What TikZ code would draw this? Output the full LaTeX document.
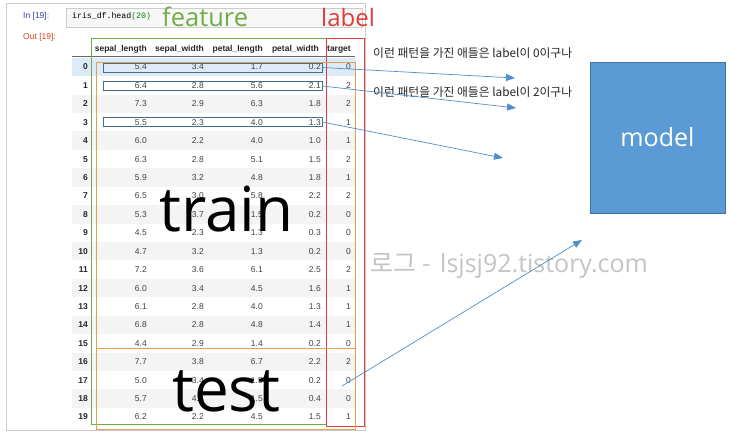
\documentclass[tikz,border=0pt]{standalone}
\usepackage{fontspec}
\setmainfont{Liberation Sans}
\newfontfamily\krfont{Noto Sans CJK KR}
\newfontfamily\osfont{Open Sans}
\newfontfamily\monof{Liberation Mono}
\usetikzlibrary{arrows.meta}
\definecolor{featgreen}{HTML}{70AD47}
\definecolor{labred}{HTML}{E03C3C}
\definecolor{splitorange}{HTML}{E2A050}
\definecolor{arrowblue}{HTML}{4F8FC8}
\definecolor{boxslate}{HTML}{3F6F8F}
\definecolor{rowgray}{HTML}{F4F4F4}
\definecolor{rowblue}{HTML}{DCEBF7}
\definecolor{modelfill}{HTML}{5B9BD5}
\definecolor{modeldraw}{HTML}{41719C}
\definecolor{promptin}{HTML}{303F9F}
\definecolor{promptout}{HTML}{D84315}
\definecolor{wmgray}{HTML}{C4C4C4}
\definecolor{valgray}{HTML}{404040}
\tikzset{
  cell/.style={anchor=base east, inner sep=0pt, font=\fontsize{8.5}{10}\selectfont, text=valgray},
  idx/.style={anchor=base east, inner sep=0pt, font=\fontsize{8.5}{10}\selectfont\bfseries, text=black!85},
  hdr/.style={anchor=base east, inner sep=0pt, font=\fontsize{8.5}{10}\selectfont\bfseries, text=black!85},
  rowbox/.style={draw=boxslate, line width=0.8pt},
  flow/.style={draw=arrowblue, line width=0.7pt, -{Triangle[length=9pt,width=7pt]}},
  bigword/.style={anchor=base west, inner sep=0pt, font=\osfont\fontsize{62}{70}\selectfont},
  note/.style={anchor=west, inner sep=0pt, font=\krfont\fontsize{11.8}{13}\selectfont, text=black!85},
}
\begin{document}
\begin{tikzpicture}[x=1pt, y=-1pt]
\useasboundingbox (0,0) rectangle (731,435);
\fill[white] (0,0) rectangle (731,435);
% notebook frame
\draw[black!20, line width=0.8pt] (6,3) rectangle (365,430);
% input box
\draw[black!20, fill=black!3, line width=0.6pt] (66,8) rectangle (362,27);
\node[anchor=base west, inner sep=0pt, font=\fontsize{8.5}{10}\selectfont, text=promptin] (inp) at (23,19) {In [19]:};
\node[anchor=base west, inner sep=0pt, font=\monof\fontsize{8.2}{10}\selectfont] (code) at (72,19) {iris\_df.head\textcolor{green!50!black}{(20)}};
\node[anchor=base west, inner sep=0pt, font=\fontsize{8.5}{10}\selectfont, text=promptout] (outp) at (23,40) {Out [19]:};
% row shading
\fill[rowblue] (72,57.8) rectangle (356,76.2);
\foreach \i in {2,4,...,18} {
  \fill[rowgray] (72,{67+18.42*\i-9.2}) rectangle (356,{67+18.42*\i+9.2});
}
% header
\node[hdr] (h1) at (147,52) {sepal\_length};
\node[hdr] (h2) at (204,52) {sepal\_width};
\node[hdr] (h3) at (263,52) {petal\_length};
\node[hdr] (h4) at (319,52) {petal\_width};
\node[hdr] (h5) at (351,52) {target};
\draw[black!60, line width=0.8pt] (72,56.5) -- (355,56.5);
% rows
\foreach \i/\a/\b/\c/\d/\t in {0/5.4/3.4/1.7/0.2/0, 1/6.4/2.8/5.6/2.1/2, 2/7.3/2.9/6.3/1.8/2, 3/5.5/2.3/4.0/1.3/1, 4/6.0/2.2/4.0/1.0/1, 5/6.3/2.8/5.1/1.5/2, 6/5.9/3.2/4.8/1.8/1, 7/6.5/3.0/5.8/2.2/2, 8/5.3/3.7/1.5/0.2/0, 9/4.5/2.3/1.3/0.3/0, 10/4.7/3.2/1.3/0.2/0, 11/7.2/3.6/6.1/2.5/2, 12/6.0/3.4/4.5/1.6/1, 13/6.1/2.8/4.0/1.3/1, 14/6.8/2.8/4.8/1.4/1, 15/4.4/2.9/1.4/0.2/0, 16/7.7/3.8/6.7/2.2/2, 17/5.0/3.4/1.5/0.2/0, 18/5.7/4.4/1.5/0.4/0, 19/6.2/2.2/4.5/1.5/1} {
  \pgfmathsetmacro{\yb}{67+18.42*\i+3}
  \node[idx] (ix\i) at (88,\yb) {\i};
  \node[cell] (sa\i) at (147,\yb) {\a};
  \node[cell] (sb\i) at (204,\yb) {\b};
  \node[cell] (sc\i) at (263,\yb) {\c};
  \node[cell] (sd\i) at (321,\yb) {\d};
  \node[cell] (tg\i) at (351,\yb) {\t};
}
% feature / label / split frames
\draw[featgreen, line width=0.9pt] (91,38) rectangle (326,424);
\draw[labred, line width=0.9pt] (326,38) rectangle (364,426);
\draw[splitorange, line width=0.9pt] (96,62) rectangle (355,348);
\draw[splitorange, line width=0.9pt] (96,348) rectangle (355,429);
% highlighted rows
\node[rowbox, minimum width=219pt, minimum height=9pt, inner sep=0pt] (b0) at (212.5,67.5) {};
\node[rowbox, minimum width=219pt, minimum height=9pt, inner sep=0pt] (b1) at (212.5,86) {};
\node[rowbox, minimum width=219pt, minimum height=9pt, inner sep=0pt] (b3) at (212.5,122) {};
% headings
\node[anchor=base west, inner sep=0pt, font=\osfont\fontsize{25.5}{28}\selectfont, text=featgreen] (feat) at (162,27) {feature};
\node[anchor=base west, inner sep=0pt, font=\osfont\fontsize{24}{26}\selectfont, text=labred] (lab) at (321,27) {label};
% watermark
\node[anchor=base east, inner sep=0pt, font=\krfont\fontsize{25}{28}\selectfont, text=wmgray] (wm1) at (431,273) {로그 -};
\node[anchor=base west, inner sep=0pt, font=\osfont\fontsize{25}{28}\selectfont, text=wmgray] (wm2) at (440,273) {lsjsj92.tistory.com};
% notes
\node[note] (n0) at (373,53) {이런 패턴을 가진 애들은 label이 0이구나};
\node[note] (n2) at (373,92) {이런 패턴을 가진 애들은 label이 2이구나};
% model
\node[draw=modeldraw, fill=modelfill, line width=0.8pt, minimum width=135pt, minimum height=151pt, inner sep=0pt, text=white, font=\osfont\fontsize{25}{28}\selectfont] (model) at (657.5,137.5) {model};
% arrows
\coordinate (t0) at (515,78);
\coordinate (t1) at (516,108);
\coordinate (t3) at (503,158);
\coordinate (tst) at (342,386);
\coordinate (t4) at (582,240);
\draw[flow] (b0.east) -- (t0);
\draw[flow] (b1.east) -- (t1);
\draw[flow] (b3.east) -- (t3);
\draw[flow] (tst) -- (t4);
% big words
\node[bigword] (train) at (159,232) {train};
\node[bigword] (test) at (172,412) {test};
\end{tikzpicture}
\end{document}
